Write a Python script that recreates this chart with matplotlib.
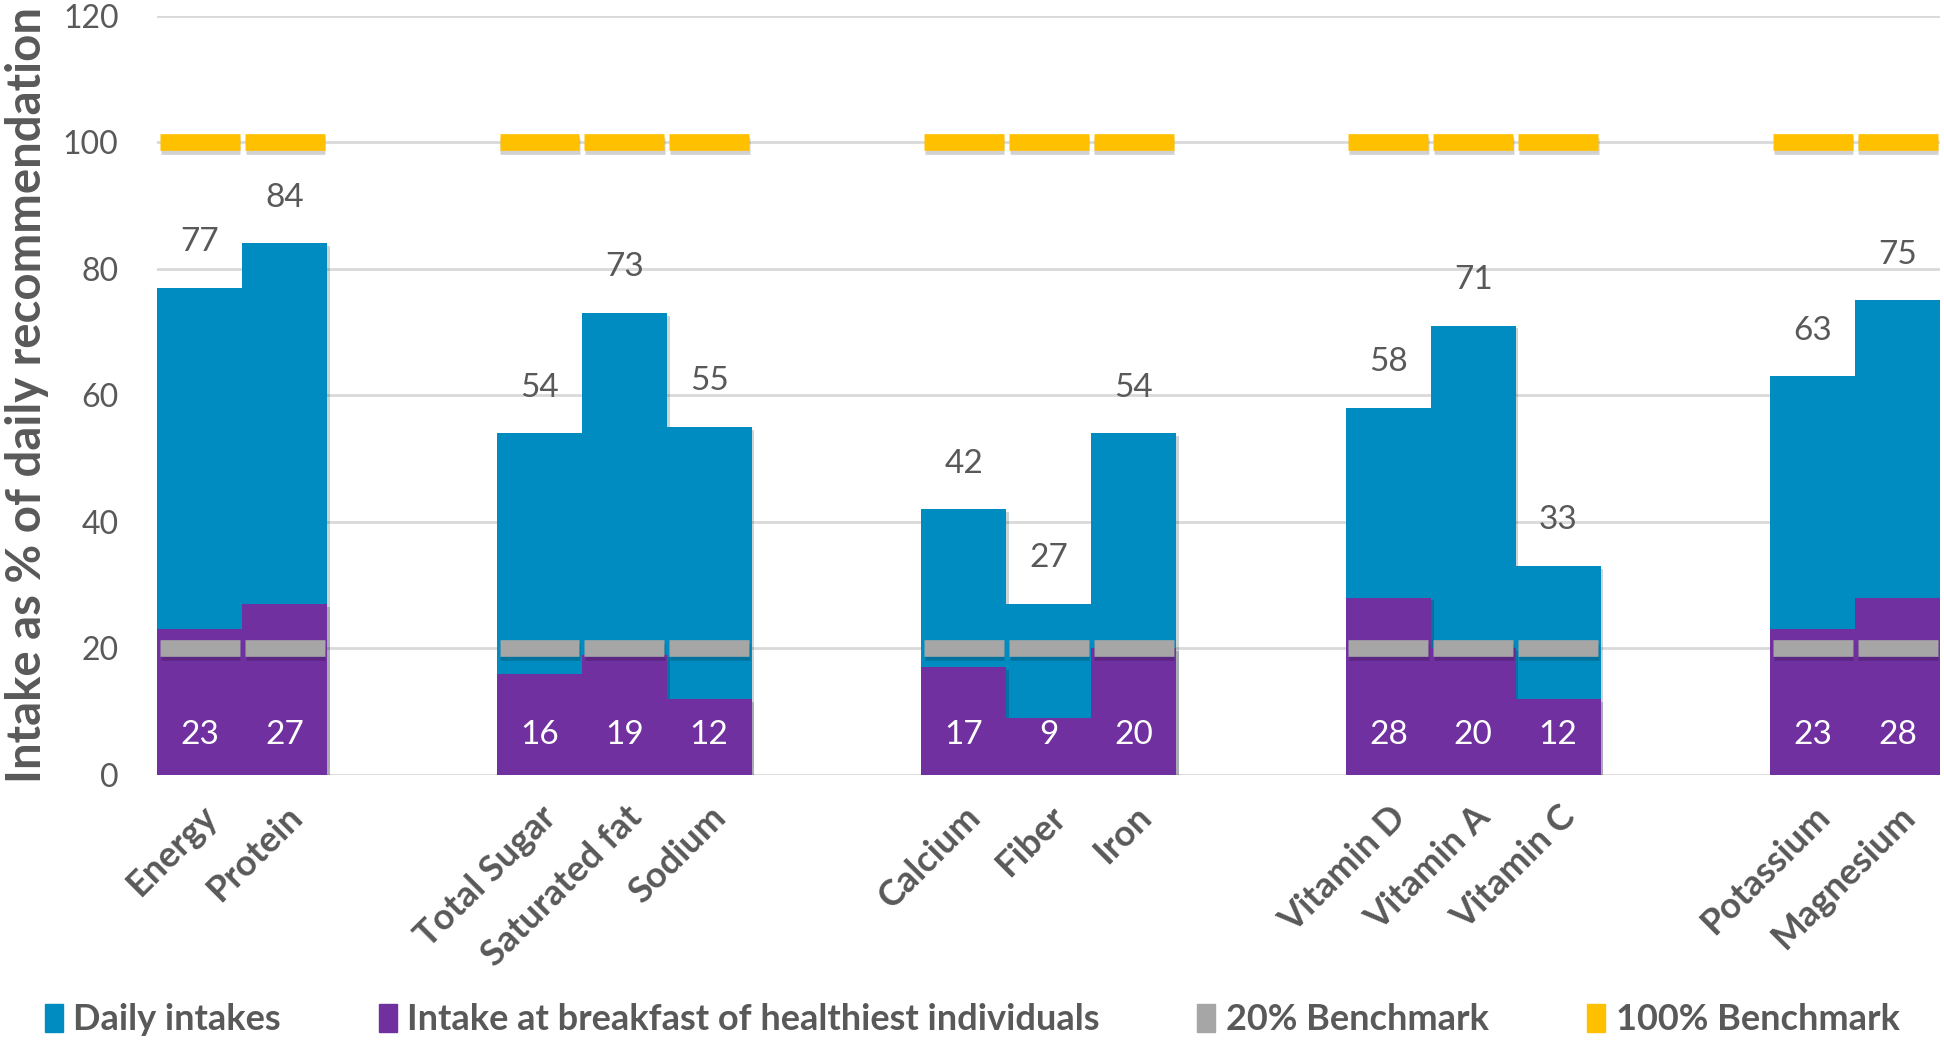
import numpy as np
import matplotlib
matplotlib.use('Agg')
import matplotlib.pyplot as plt
import matplotlib.patheffects as pe
from matplotlib.patches import Patch

plt.rcParams['font.family'] = ['Lato', 'DejaVu Sans']

# blank strings are the empty slots between the nutrient groups
categories = ['Energy', 'Protein', '', '',
              'Total Sugar', 'Saturated fat', 'Sodium', '', '',
              'Calcium', 'Fiber', 'Iron', '', '',
              'Vitamin D', 'Vitamin A', 'Vitamin C', '', '',
              'Potassium', 'Magnesium']
daily = [77, 84, None, None,
         54, 73, 55, None, None,
         42, 27, 54, None, None,
         58, 71, 33, None, None,
         63, 75]
breakfast = [23, 27, None, None,
             16, 19, 12, None, None,
             17, 9, 20, None, None,
             28, 20, 12, None, None,
             23, 28]
bench20 = 20
bench100 = 100

c_blue = '#008CC1'
c_purple = '#7030A0'
c_gray = '#A6A6A6'
c_gold = '#FFC000'
c_text = '#595959'

daily = np.array([np.nan if v is None else v for v in daily], dtype=float)
breakfast = np.array([np.nan if v is None else v for v in breakfast], dtype=float)
x = np.arange(len(categories))
has = ~np.isnan(daily)

fig = plt.figure(figsize=(19.44, 10.47), dpi=100)
ax = fig.add_axes([0.081, 0.26, 0.917, 0.725])

shadow = [pe.SimplePatchShadow(offset=(2, -2), alpha=0.2), pe.Normal()]
b1 = ax.bar(x[has], daily[has], width=1.0, color=c_blue, zorder=2)
b2 = ax.bar(x[has], breakfast[has], width=1.0, color=c_purple, zorder=3)
for p in list(b1) + list(b2):
    p.set_path_effects(shadow)

# benchmark dashes
lshadow = [pe.SimpleLineShadow(offset=(0.5, -2.5), alpha=0.18), pe.Normal()]
h20 = ax.hlines(np.full(has.sum(), bench20), x[has] - 0.47, x[has] + 0.47,
                color=c_gray, linewidth=12, zorder=4)
h100 = ax.hlines(np.full(has.sum(), bench100), x[has] - 0.47, x[has] + 0.47,
                 color=c_gold, linewidth=12, zorder=4)
h20.set_path_effects(lshadow)
h100.set_path_effects(lshadow)

# value labels
ax.bar_label(b1, labels=[f'{v:.0f}' for v in daily[has]], padding=22,
             fontsize=24, color=c_text)
for xi, v in zip(x[has], breakfast[has]):
    ax.text(xi, 6.3, f'{v:.0f}', ha='center', va='center', fontsize=24,
            color='white', zorder=5)

ax.set_xlim(-0.5, len(categories) - 0.5)
ax.set_ylim(0, 120)
ax.set_yticks(np.arange(0, 121, 20))
ax.yaxis.grid(True, color='#D9D9D9', linewidth=2)
ax.set_axisbelow(True)
for s in ax.spines.values():
    s.set_visible(False)
ax.tick_params(axis='both', length=0)
ax.tick_params(axis='y', labelsize=23, labelcolor=c_text, pad=28)
ax.set_xticks(x)
ax.set_xticklabels(categories, rotation=45, ha='right', rotation_mode='anchor',
                   fontsize=26, fontweight='bold', color=c_text)
ax.tick_params(axis='x', pad=18)
ax.set_ylabel('Intake as % of daily recommendation', fontsize=34,
              fontweight='bold', color=c_text, labelpad=10)

handles = [Patch(color=c_blue), Patch(color=c_purple),
           Patch(color=c_gray), Patch(color=c_gold)]
labels = ['Daily intakes', 'Intake at breakfast of healthiest individuals',
          '20% Benchmark', '100% Benchmark']
leg = fig.legend(handles, labels, loc='center', bbox_to_anchor=(0.5, 0.026),
                 ncol=4, frameon=False, fontsize=26, handlelength=0.5,
                 handleheight=0.8, handletextpad=0.3, columnspacing=2.7)
for t in leg.get_texts():
    t.set_color(c_text)
    t.set_fontweight('bold')

fig.savefig('out.png', dpi=100)
